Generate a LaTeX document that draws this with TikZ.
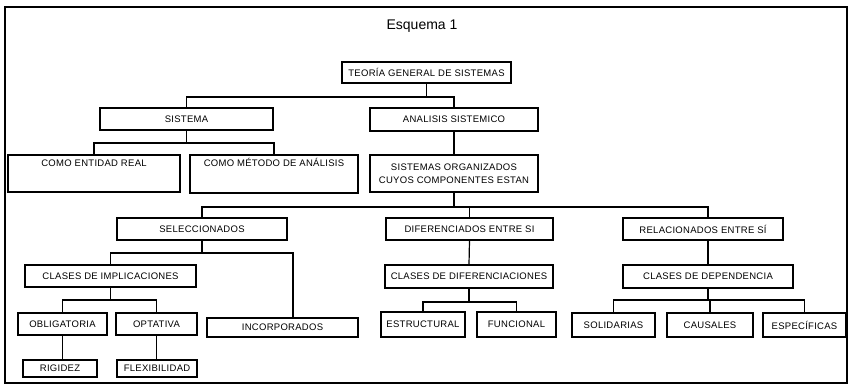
\documentclass[tikz,border=0pt]{standalone}
\usepackage{fontspec}
\setmainfont{Liberation Sans}
\newfontfamily\boxfont[LetterSpace=3]{Liberation Sans}
\begin{document}
\begin{tikzpicture}[x=1pt,y=-1pt,
  box/.style={draw=black, line width=1.2pt, rectangle, inner xsep=1.5pt, inner ysep=2pt,
    font=\boxfont\fontsize{9.5}{11.5}\selectfont, align=center},
  link/.style={draw=black, line width=1.2pt},
  frame/.style={draw=black, line width=1.3pt}]
\useasboundingbox (0,0) rectangle (849,384);
\draw[frame] (5,7) rectangle (847,383);
\node[font=\fontsize{14}{16}\selectfont] (title) at (422,26) {Esquema 1};
% level 0
\node[box, minimum width=169pt, minimum height=21pt] (tgs) at (426.5,72.5) {TEORÍA GENERAL DE SISTEMAS};
% level 1
\node[box, minimum width=173pt, minimum height=22pt] (sis) at (186.5,119) {SISTEMA};
\node[box, minimum width=168pt, minimum height=23pt] (ana) at (454,119.5) {ANALISIS SISTEMICO};
% level 2
\node[box, minimum width=172pt, minimum height=37pt, inner ysep=4pt, text height=7pt, text depth=22pt] (ent) at (94,173.5) {COMO ENTIDAD REAL};
\node[box, minimum width=168pt, minimum height=38pt, inner ysep=4pt, text height=7pt, text depth=23pt] (met) at (274,174) {COMO MÉTODO DE ANÁLISIS};
\node[box, minimum width=168pt, minimum height=37pt] (org) at (454,173.5) {SISTEMAS ORGANIZADOS\\[1pt]CUYOS COMPONENTES ESTAN};
% level 3
\node[box, minimum width=170pt, minimum height=22pt] (sel) at (202,229) {SELECCIONADOS};
\node[box, minimum width=167pt, minimum height=22pt] (dif) at (469.5,229) {DIFERENCIADOS ENTRE SI};
\node[box, minimum width=160pt, minimum height=22pt] (rel) at (703,229) {RELACIONADOS ENTRE SÍ};
% level 4
\node[box, minimum width=171pt, minimum height=22pt] (cimp) at (110.5,276) {CLASES DE IMPLICACIONES};
\node[box, minimum width=168pt, minimum height=23pt] (cdif) at (469,276.5) {CLASES DE DIFERENCIACIONES};
\node[box, minimum width=170pt, minimum height=23pt] (cdep) at (708,276.5) {CLASES DE DEPENDENCIA};
% level 5
\node[box, minimum width=89pt, minimum height=22pt] (obl) at (62.5,324) {OBLIGATORIA};
\node[box, minimum width=81pt, minimum height=22pt] (opt) at (156.5,324) {OPTATIVA};
\node[box, minimum width=151pt, minimum height=19pt] (inc) at (282.5,327.5) {INCORPORADOS};
\node[box, minimum width=84pt, minimum height=25pt] (est) at (423,324.5) {ESTRUCTURAL};
\node[box, minimum width=79pt, minimum height=25pt] (fun) at (516.5,324.5) {FUNCIONAL};
\node[box, minimum width=83pt, minimum height=24pt] (sol) at (613.5,325) {SOLIDARIAS};
\node[box, minimum width=86pt, minimum height=24pt] (cau) at (710,325) {CAUSALES};
\node[box, minimum width=83pt, minimum height=24pt] (esp) at (804.5,325) {ESPECÍFICAS};
% level 6
\node[box, minimum width=74pt, minimum height=17pt] (rig) at (60,368.5) {RIGIDEZ};
\node[box, minimum width=80pt, minimum height=17pt] (flex) at (157,368.5) {FLEXIBILIDAD};
% connectors
\draw[link] (tgs.south) -- (tgs.south |- 0,97) -| (sis.north);
\draw[link] (tgs.south) -- (tgs.south |- 0,97) -| (ana.north);
\draw[link] (sis.south) -- (sis.south |- 0,143) -| (ent.north);
\draw[link] (sis.south) -- (sis.south |- 0,143) -| (met.north);
\draw[link] (ana.south) -- (org.north);
\draw[link] (org.south) -- (org.south |- 0,207) -| (sel.north);
\draw[link] (org.south) -- (org.south |- 0,207) -| (dif.north);
\draw[link] (org.south) -- (org.south |- 0,207) -| (rel.north -| cdep.north);
\draw[link] (sel.south) -- (sel.south |- 0,253) -| (cimp.north);
\draw[link] (sel.south) -- (sel.south |- 0,253) -| (inc.north -| 293,0);
\draw[link] (cimp.south) -- (cimp.south |- 0,300) -| (obl.north);
\draw[link] (cimp.south) -- (cimp.south |- 0,300) -| (opt.north);
\draw[link] (obl.south) -- (obl.south |- rig.north);
\draw[link] (opt.south) -- (opt.south |- flex.north);
\draw[link] (dif.south) -- (cdif.north);
\draw[link] (cdif.south) -- (cdif.south |- 0,302) -| (est.north);
\draw[link] (cdif.south) -- (cdif.south |- 0,302) -| (fun.north);
\draw[link] (rel.south -| cdep.north) -- (cdep.north);
\draw[link] (cdep.south) -- (cdep.south |- 0,300) -| (sol.north);
\draw[link] (cdep.south) -- (cdep.south |- 0,300) -| (cau.north);
\draw[link] (cdep.south) -- (cdep.south |- 0,300) -| (esp.north);
\end{tikzpicture}
\end{document}
